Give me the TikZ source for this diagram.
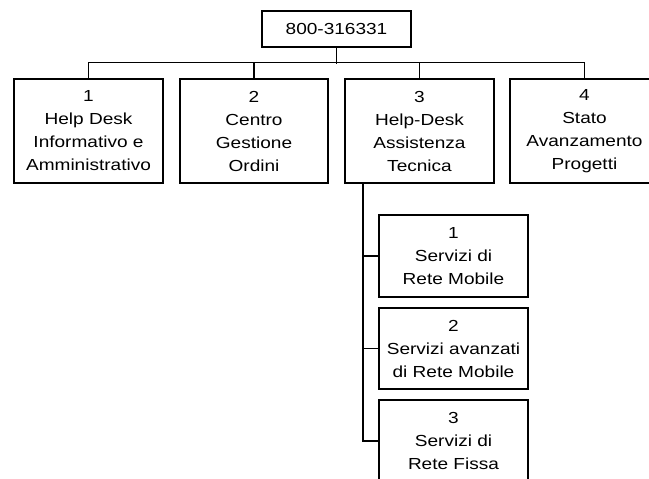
\documentclass[tikz,border=0pt]{standalone}
\usepackage{fontspec}
\setmainfont{Liberation Sans}[FakeStretch=1.19]
\begin{document}
\begin{tikzpicture}[x=1pt,y=-1pt,
  box/.style={draw, line width=1.4pt, align=center, inner sep=0pt,
    font=\fontsize{16}{23}\selectfont, minimum width=149pt},
  conn/.style={line width=1.4pt}]
\useasboundingbox (0,0) rectangle (649,479);
\clip (0,0) rectangle (649,479);
\node[box, minimum height=36pt] (root) at (336.5,29) {800-316331};
\node[box, minimum height=104pt] (b1) at (88.5,131) {1\\Help Desk\\Informativo e\\Amministrativo};
\node[box, minimum height=104pt, minimum width=148pt] (b2) at (254,131) {2\\Centro\\Gestione\\Ordini};
\node[box, minimum height=104pt] (b3) at (419.5,131) {3\\Help-Desk\\Assistenza\\Tecnica};
\node[box, minimum height=104pt] (b4) at (584.5,131) {4\\Stato\\Avanzamento\\Progetti};
\node[box, minimum height=82pt] (sa) at (453.5,256) {1\\Servizi di\\Rete Mobile};
\node[box, minimum height=81pt] (sb) at (453.5,348.5) {2\\Servizi avanzati\\di Rete Mobile};
\node[box, minimum height=82pt] (sc) at (453.5,441) {3\\Servizi di\\Rete Fissa};
\draw[conn] (root.south) -- ++(0,16);
\draw[conn] (b1.north) -- ++(0,-16) -| (b4.north);
\draw[conn] (b2.north) -- ++(0,-16);
\draw[conn] (b3.north) -- ++(0,-16);
\coordinate (t) at (363,183);
\draw[conn] (t) |- (sc.west);
\draw[conn] (t |- sa.west) -- (sa.west);
\draw[conn] (t |- sb.west) -- (sb.west);
\end{tikzpicture}
\end{document}
